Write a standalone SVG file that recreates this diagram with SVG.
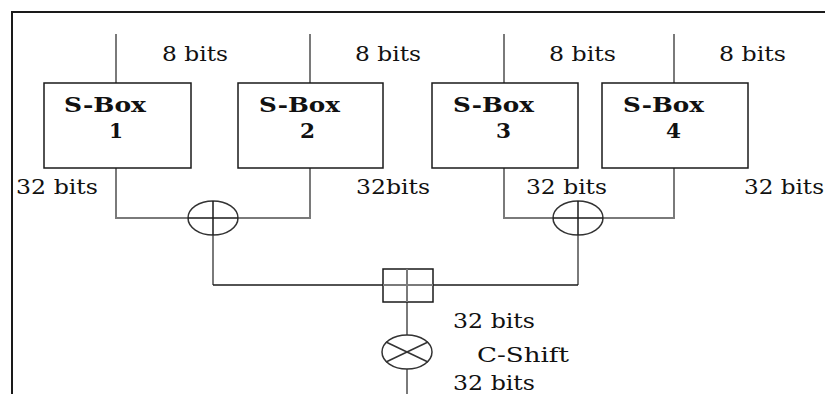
<svg xmlns="http://www.w3.org/2000/svg" width="825" height="394" viewBox="0 0 825 394">
<style>
.frame{stroke:#1a1a1a;stroke-width:2;fill:none}
.wire{stroke:#7a7a7a;stroke-width:2;fill:none}
.thin{stroke:#1a1a1a;stroke-width:1.5;fill:none}
.box{stroke:#1a1a1a;stroke-width:1.5;fill:#ffffff}
.op{stroke:#333333;stroke-width:1.5;fill:#ffffff}
.lbl{font-family:"DejaVu Serif","Liberation Serif",serif;font-size:20px;fill:#111111}
.title{font-family:"DejaVu Serif","Liberation Serif",serif;font-size:20px;font-weight:bold;fill:#111111}
</style>
<rect width="825" height="394" fill="#ffffff"/>
<g id="frame">
<line class="frame" x1="12" y1="12" x2="825" y2="12"/>
<line class="frame" x1="12" y1="11" x2="12" y2="394"/>
</g>
<g id="connectors">
<line class="wire" x1="116" y1="34" x2="116" y2="83"/>
<line class="wire" x1="310" y1="34" x2="310" y2="83"/>
<line class="wire" x1="504" y1="34" x2="504" y2="83"/>
<line class="wire" x1="674" y1="34" x2="674" y2="83"/>
<polyline class="wire" points="116,168 116,218 310,218 310,168"/>
<polyline class="wire" points="504,168 504,218 674,218 674,168"/>
<line class="wire" x1="213" y1="235" x2="213" y2="285"/>
<line class="wire" x1="578" y1="235" x2="578" y2="285"/>
<line class="thin" x1="213" y1="285" x2="578" y2="285"/>
<line class="wire" x1="407" y1="269" x2="407" y2="394"/>
</g>
<g id="sbox1">
<rect class="box" x="44" y="83" width="147" height="85"/>
<text class="title" x="64" y="112" textLength="82" lengthAdjust="spacingAndGlyphs">S-Box</text>
<text class="title" x="109" y="138" textLength="14" lengthAdjust="spacingAndGlyphs">1</text>
</g>
<g id="sbox2">
<rect class="box" x="238" y="83" width="145" height="85"/>
<text class="title" x="259" y="112" textLength="81" lengthAdjust="spacingAndGlyphs">S-Box</text>
<text class="title" x="300" y="138" textLength="15" lengthAdjust="spacingAndGlyphs">2</text>
</g>
<g id="sbox3">
<rect class="box" x="432" y="83" width="146" height="85"/>
<text class="title" x="453" y="112" textLength="81" lengthAdjust="spacingAndGlyphs">S-Box</text>
<text class="title" x="496" y="138" textLength="15" lengthAdjust="spacingAndGlyphs">3</text>
</g>
<g id="sbox4">
<rect class="box" x="602" y="83" width="146" height="85"/>
<text class="title" x="623" y="112" textLength="81" lengthAdjust="spacingAndGlyphs">S-Box</text>
<text class="title" x="666" y="138" textLength="15" lengthAdjust="spacingAndGlyphs">4</text>
</g>
<g id="xor1">
<ellipse class="op" cx="213" cy="218" rx="25" ry="17"/>
<line class="thin" x1="188" y1="218" x2="238" y2="218"/>
<line class="thin" x1="213" y1="201" x2="213" y2="235"/>
</g>
<g id="xor2">
<ellipse class="op" cx="578" cy="218" rx="25" ry="17"/>
<line class="thin" x1="553" y1="218" x2="603" y2="218"/>
<line class="thin" x1="578" y1="201" x2="578" y2="235"/>
</g>
<g id="add">
<rect class="box" x="383" y="269" width="50" height="33"/>
<line class="wire" x1="383" y1="285" x2="433" y2="285"/>
<line class="wire" x1="407" y1="269" x2="407" y2="302"/>
</g>
<g id="cshift">
<ellipse class="op" cx="407" cy="352" rx="25" ry="17"/>
<line class="op" x1="386" y1="342" x2="428" y2="362"/>
<line class="op" x1="386" y1="362" x2="428" y2="342"/>
</g>
<g id="labels">
<text class="lbl" x="162" y="61" textLength="66" lengthAdjust="spacingAndGlyphs">8 bits</text>
<text class="lbl" x="355" y="61" textLength="66" lengthAdjust="spacingAndGlyphs">8 bits</text>
<text class="lbl" x="549" y="61" textLength="67" lengthAdjust="spacingAndGlyphs">8 bits</text>
<text class="lbl" x="719" y="61" textLength="67" lengthAdjust="spacingAndGlyphs">8 bits</text>
<text class="lbl" x="16" y="194" textLength="82" lengthAdjust="spacingAndGlyphs">32 bits</text>
<text class="lbl" x="356" y="194" textLength="74" lengthAdjust="spacingAndGlyphs">32bits</text>
<text class="lbl" x="526" y="194" textLength="81" lengthAdjust="spacingAndGlyphs">32 bits</text>
<text class="lbl" x="744" y="194" textLength="80" lengthAdjust="spacingAndGlyphs">32 bits</text>
<text class="lbl" x="453" y="328" textLength="82" lengthAdjust="spacingAndGlyphs">32 bits</text>
<text class="lbl" x="477" y="362" textLength="92" lengthAdjust="spacingAndGlyphs">C-Shift</text>
<text class="lbl" x="453" y="390" textLength="82" lengthAdjust="spacingAndGlyphs">32 bits</text>
</g>
</svg>
